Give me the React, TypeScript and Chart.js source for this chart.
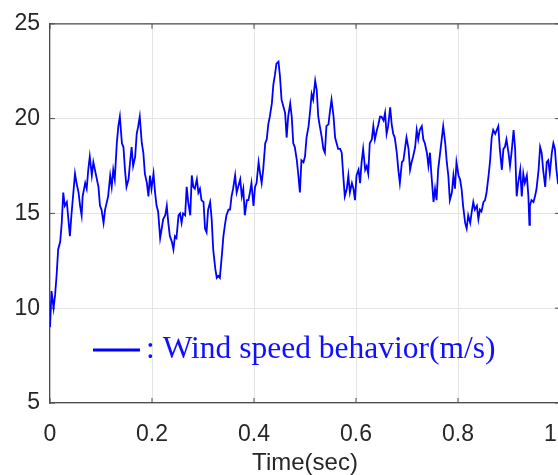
import React, { useEffect, useRef } from "react";
import { Chart, registerables } from "chart.js";

Chart.register(...registerables);

// Time axis (s)
const timeSec = [
  0, 0.003, 0.007, 0.010, 0.013, 0.016, 0.020, 0.023, 0.026, 0.029, 0.033, 0.039, 0.042, 0.049, 0.052, 0.056,
  0.059, 0.062, 0.064, 0.069, 0.072, 0.075, 0.078, 0.082, 0.085, 0.088, 0.095, 0.098, 0.101, 0.105, 0.108,
  0.114, 0.118, 0.121, 0.124, 0.127, 0.131, 0.134, 0.137, 0.141, 0.144, 0.147, 0.150, 0.154, 0.157, 0.160,
  0.163, 0.167, 0.170, 0.173, 0.176, 0.180, 0.183, 0.186, 0.190, 0.193, 0.196, 0.199, 0.203, 0.206, 0.209,
  0.212, 0.216, 0.219, 0.222, 0.226, 0.229, 0.232,
  0.235, 0.239, 0.242, 0.245, 0.248, 0.252, 0.255, 0.258, 0.261, 0.265, 0.268, 0.271, 0.275, 0.278, 0.281,
  0.284, 0.288, 0.291, 0.294, 0.297, 0.301, 0.304, 0.307, 0.310, 0.314, 0.317, 0.320, 0.324, 0.327, 0.330,
  0.333, 0.337, 0.340, 0.343, 0.346, 0.350, 0.353, 0.356, 0.359, 0.363, 0.366, 0.369, 0.373, 0.376, 0.379,
  0.382, 0.386, 0.389, 0.392, 0.395, 0.399, 0.402, 0.405, 0.409, 0.412, 0.415, 0.418, 0.422, 0.425, 0.428,
  0.431, 0.435, 0.438, 0.441, 0.444, 0.448, 0.451, 0.454, 0.458, 0.461, 0.464, 0.467, 0.471, 0.474, 0.477,
  0.480, 0.484, 0.487,
  0.490, 0.493, 0.497, 0.500, 0.503, 0.507, 0.510, 0.513, 0.516, 0.520, 0.523, 0.526, 0.529, 0.533, 0.536,
  0.539, 0.542, 0.546, 0.549, 0.552, 0.556, 0.559, 0.562, 0.565, 0.569, 0.572, 0.575, 0.578, 0.582, 0.585,
  0.588, 0.592, 0.595, 0.598, 0.601, 0.605, 0.608, 0.611, 0.614, 0.618, 0.621, 0.624, 0.627, 0.631, 0.634,
  0.637, 0.641, 0.644, 0.647, 0.650, 0.654, 0.657, 0.660, 0.663, 0.667, 0.670, 0.673, 0.676, 0.680, 0.683,
  0.686, 0.690, 0.693, 0.696, 0.699, 0.703, 0.706, 0.709, 0.712, 0.716, 0.719, 0.722, 0.725, 0.729, 0.732,
  0.735, 0.739, 0.742,
  0.745, 0.748, 0.752, 0.755, 0.758, 0.761, 0.765, 0.768, 0.771, 0.775, 0.778, 0.781, 0.784, 0.788, 0.791,
  0.794, 0.797, 0.801, 0.804, 0.807, 0.810, 0.814, 0.817, 0.820, 0.824, 0.827, 0.830, 0.833, 0.837, 0.840,
  0.843, 0.846, 0.850, 0.853, 0.856, 0.860, 0.863, 0.866, 0.869, 0.873, 0.876, 0.879, 0.882, 0.886, 0.889,
  0.892, 0.895, 0.899, 0.902, 0.905, 0.909, 0.912, 0.915, 0.918, 0.922, 0.925, 0.928, 0.931, 0.935, 0.938,
  0.940, 0.941, 0.944, 0.948, 0.951, 0.954, 0.958, 0.961, 0.964, 0.967, 0.971, 0.974, 0.977, 0.980, 0.984,
  0.987, 0.990, 0.993, 0.996, 1.0,
];

// Wind speed (m/s)
const windSpeed = [
  9.0, 10.9, 10.0, 10.7, 11.75, 13.1, 13.5, 14.5, 16.1, 15.4, 15.6, 13.8, 14.9, 17.1, 16.6, 16.1,
  15.4, 14.9, 15.9, 16.6, 16.3, 17.3, 18.0, 17.0, 17.7, 17.3, 16.4, 15.4, 15.2, 14.5, 15.2,
  15.9, 17.0, 16.4, 17.3, 16.8, 18.7, 19.6, 20.1, 18.7, 18.5, 17.3, 16.4, 16.8, 17.7, 18.5,
  17.5, 18.0, 19.2, 19.6, 20.1, 18.7, 18.2, 17.1, 16.6, 15.9, 17.0, 16.3, 17.1, 16.1, 15.4,
  15.1, 13.7, 14.2, 14.7, 14.9, 15.4, 14.5,
  13.8, 13.5, 13.1, 13.8, 13.7, 14.9, 15.0, 14.5, 15.0, 14.9, 16.4, 15.6, 14.9, 17.0, 16.4,
  16.3, 16.8, 16.1, 16.3, 15.7, 15.6, 14.2, 14.0, 15.2, 15.6, 14.7, 13.1, 12.1, 11.6, 11.7,
  11.6, 12.8, 13.8, 14.4, 14.9, 15.2, 15.2, 15.9, 16.3, 17.0, 16.1, 16.4, 16.8, 15.9, 16.3,
  14.9, 15.7, 15.7, 16.1, 16.6, 15.4, 16.4, 16.6, 17.7, 17.1, 16.6, 17.3, 18.7, 18.9, 19.7,
  20.1, 20.8, 21.8, 22.3, 22.9, 23.0, 22.2, 21.0, 20.6, 20.3, 19.0, 20.1, 20.8, 20.1, 18.7,
  18.5, 17.8, 17.0,
  16.1, 17.8, 17.7, 18.0, 19.0, 19.6, 20.4, 21.3, 21.0, 22.0, 21.5, 20.1, 19.6, 19.0, 18.4,
  18.2, 19.6, 19.7, 20.4, 21.0, 20.1, 19.0, 18.7, 18.4, 18.4, 18.2, 17.0, 15.9, 16.3, 17.0,
  16.1, 16.6, 16.3, 15.7, 17.0, 17.3, 16.6, 17.7, 18.4, 17.3, 17.5, 17.1, 18.7, 18.9, 19.6,
  18.9, 19.4, 19.7, 20.1, 20.1, 19.9, 20.3, 19.2, 19.6, 20.6, 19.7, 19.2, 19.0, 18.2, 17.3,
  16.6, 17.7, 17.8, 18.4, 19.0, 18.4, 17.3, 17.7, 18.0, 18.5, 19.4, 18.9, 19.4, 19.6, 18.9,
  18.7, 18.2, 17.5,
  18.2, 17.0, 15.6, 16.3, 15.7, 17.3, 18.2, 18.9, 19.6, 18.7, 17.7, 17.0, 15.7, 16.1, 17.0,
  16.3, 17.7, 17.0, 16.8, 16.3, 15.4, 14.5, 14.2, 14.9, 14.5, 15.1, 15.6, 15.2, 15.4, 14.7,
  15.2, 15.1, 15.6, 15.7, 16.1, 17.0, 17.8, 19.0, 19.4, 19.2, 19.4, 19.6, 18.4, 17.3, 18.4,
  18.5, 18.9, 18.2, 17.5, 18.2, 19.4, 18.4, 15.9, 16.6, 17.3, 15.9, 17.1, 16.6, 17.0, 15.9,
  14.4, 15.4, 15.7, 15.6, 15.9, 16.3, 17.3, 18.5, 18.2, 17.3, 16.4, 17.7, 17.8, 17.1, 18.2,
  18.7, 18.4, 17.3, 16.6, 16.4,
];

const xTicks = [0, 0.2, 0.4, 0.6, 0.8, 1];
const yTicks = [5, 10, 15, 20, 25];
const xTitle = "Time(sec)";
const legendText = ": Wind speed behavior(m/s)";

const AXIS_COLOR = "#4d4d4d";
const TEXT_COLOR = "#262626";
const GRID_COLOR = "#e4e4e4";
const LINE_COLOR = "#0000ff";

const boxPlugin = {
  id: "matlabBox",
  beforeDatasetsDraw(chart: any) {
    const { ctx, chartArea: a, scales } = chart;
    ctx.save();
    ctx.strokeStyle = AXIS_COLOR;
    ctx.lineWidth = 1.2;
    ctx.beginPath();
    ctx.moveTo(a.left, a.top);
    ctx.lineTo(a.right, a.top);
    ctx.lineTo(a.right, a.bottom);
    ctx.stroke();
    const tl = 5;
    ctx.lineWidth = 1;
    ctx.beginPath();
    for (const v of xTicks) {
      const x = scales.x.getPixelForValue(v);
      ctx.moveTo(x, a.bottom);
      ctx.lineTo(x, a.bottom - tl);
      ctx.moveTo(x, a.top);
      ctx.lineTo(x, a.top + tl);
    }
    for (const v of yTicks) {
      const y = scales.y.getPixelForValue(v);
      ctx.moveTo(a.left, y);
      ctx.lineTo(a.left + tl, y);
      ctx.moveTo(a.right, y);
      ctx.lineTo(a.right - tl, y);
    }
    ctx.stroke();
    ctx.restore();
  },
};

const legendPlugin = {
  id: "innerLegend",
  afterDraw(chart: any) {
    const { ctx, chartArea: a } = chart;
    ctx.save();
    ctx.strokeStyle = LINE_COLOR;
    ctx.lineWidth = 3;
    ctx.beginPath();
    ctx.moveTo(a.left + 43, 350);
    ctx.lineTo(a.left + 90, 350);
    ctx.stroke();
    ctx.fillStyle = "#1010ff";
    ctx.font = '31.5px "Liberation Serif", "Times New Roman", serif';
    ctx.textBaseline = "alphabetic";
    ctx.textAlign = "left";
    ctx.fillText(legendText, a.left + 96, 358);
    ctx.restore();
  },
};

export default function App() {
  const ref = useRef<HTMLCanvasElement | null>(null);

  useEffect(() => {
    if (!ref.current) return;
    const points = timeSec.map((t, i) => ({ x: t, y: windSpeed[i] }));
    const chart = new Chart(ref.current, {
      type: "line",
      data: {
        datasets: [
          {
            label: "Wind speed behavior(m/s)",
            data: points,
            borderColor: LINE_COLOR,
            borderWidth: 1.8,
            pointRadius: 0,
            tension: 0,
            fill: false,
          },
        ],
      },
      options: {
        responsive: false,
        animation: false,
        devicePixelRatio: 1,
        layout: { padding: { top: 20, right: 40, left: 0, bottom: 0 } },
        plugins: { legend: { display: false }, tooltip: { enabled: false } },
        scales: {
          x: {
            type: "linear",
            min: 0,
            max: 1,
            afterBuildTicks: (s: any) => {
              s.ticks = xTicks.map((v) => ({ value: v }));
            },
            afterFit: (s: any) => {
              s.height = 72;
            },
            ticks: {
              font: { family: '"Liberation Sans", Arial, sans-serif', size: 23 },
              color: TEXT_COLOR,
              padding: 18,
              maxRotation: 0,
              autoSkip: false,
            },
            grid: { color: GRID_COLOR, drawTicks: false, lineWidth: 1 },
            border: { color: AXIS_COLOR, width: 1.2 },
            title: {
              display: true,
              text: xTitle,
              color: TEXT_COLOR,
              font: { family: '"Liberation Sans", Arial, sans-serif', size: 24, lineHeight: 1 },
              padding: 0,
            },
          },
          y: {
            type: "linear",
            min: 5,
            max: 25,
            afterBuildTicks: (s: any) => {
              s.ticks = yTicks.map((v) => ({ value: v }));
            },
            afterFit: (s: any) => {
              s.width = 50;
            },
            ticks: {
              font: { family: '"Liberation Sans", Arial, sans-serif', size: 23 },
              color: TEXT_COLOR,
              padding: 10,
            },
            grid: { color: GRID_COLOR, drawTicks: false, lineWidth: 1 },
            border: { color: AXIS_COLOR, width: 1.2 },
          },
        },
      },
      plugins: [boxPlugin, legendPlugin],
    });
    return () => chart.destroy();
  }, []);

  return (
    <div
      style={{
        position: "fixed",
        left: 0,
        top: 0,
        width: 558,
        height: 475,
        overflow: "hidden",
        background: "#ffffff",
      }}
    >
      <canvas ref={ref} width={600} height={475} style={{ display: "block" }} />
    </div>
  );
}
